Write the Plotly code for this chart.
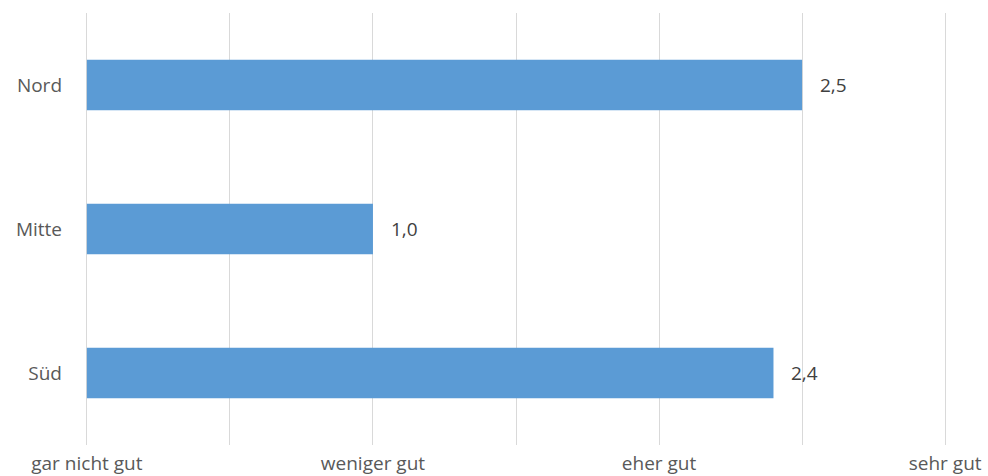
import plotly.graph_objects as go

categories = ["Nord", "Mitte", "Süd"]
values = [2.5, 1.0, 2.4]
tick_values = [0, 0.5, 1, 1.5, 2, 2.5, 3]
tick_labels = ["gar nicht gut", "", "weniger gut", "", "eher gut", "", "sehr gut"]

font_family = "Open Sans, Segoe UI, sans-serif"

fig = go.Figure()
fig.add_trace(go.Bar(
    y=categories, x=values, orientation="h",
    marker=dict(color="#5B9BD5", line=dict(width=0)),
    width=0.35, hoverinfo="skip",
))
for c, v in zip(categories, values):
    fig.add_annotation(x=v, y=c, text=f"{v:.1f}".replace(".", ","),
                       showarrow=False, xanchor="left", xshift=16,
                       font=dict(family=font_family, size=19, color="#404040"))

fig.update_layout(
    width=988, height=476,
    margin=dict(l=84, r=40, t=13, b=31),
    paper_bgcolor="white", plot_bgcolor="white",
    showlegend=False,
    font=dict(family=font_family, size=19, color="#595959"),
    xaxis=dict(range=[-0.01, 3.01], tickvals=tick_values, ticktext=tick_labels,
               showgrid=True, gridcolor="#d9d9d9", gridwidth=1,
               zeroline=False, showline=False, ticks="",
               ticklabelstandoff=5, automargin=False, fixedrange=True),
    yaxis=dict(categoryorder="array", categoryarray=categories[::-1],
               range=[-0.5, 2.5], showgrid=False, zeroline=False,
               showline=False, ticks="", ticklabelstandoff=21,
               automargin=False, fixedrange=True),
)
fig.write_html("out.html")
